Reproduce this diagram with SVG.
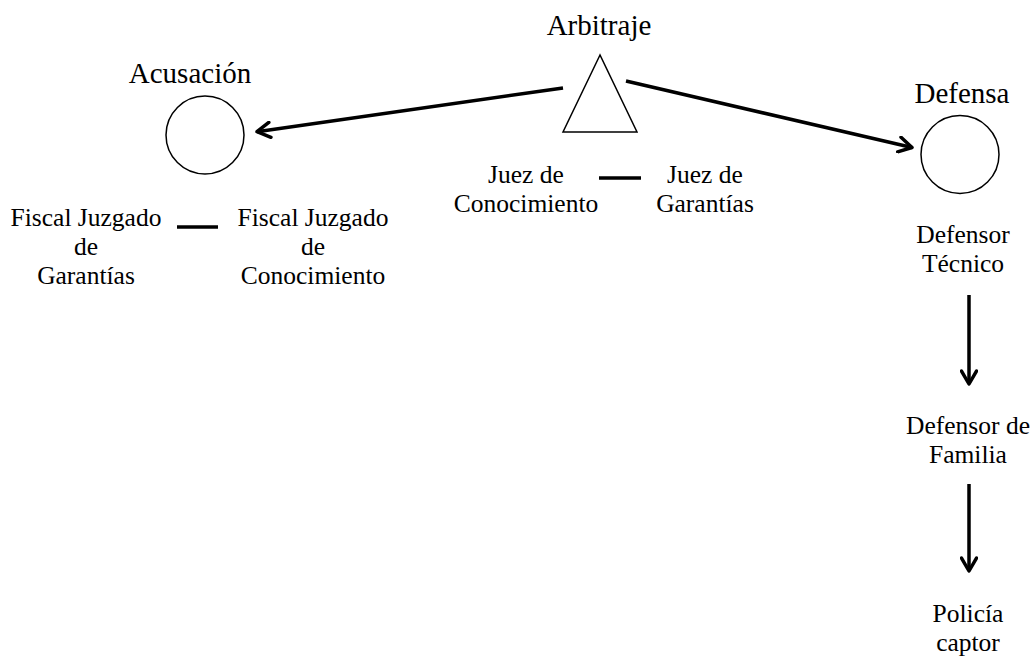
<svg xmlns="http://www.w3.org/2000/svg" width="1035" height="656" viewBox="0 0 1035 656">
<style>
text{font-family:"Liberation Serif","Times New Roman",serif;fill:#000;text-anchor:middle}
.t{font-size:29px}
.s{font-size:25.5px}
.shape{fill:none;stroke:#000;stroke-width:1.5}
.con{stroke:#000;stroke-width:3.5;fill:none}
</style>
<defs>
<marker id="ah" markerWidth="18" markerHeight="18" refX="15" refY="9" orient="auto" markerUnits="userSpaceOnUse" viewBox="0 0 18 18">
<path d="M2,1.5 L15,9 L2,16.5" fill="none" stroke="#000" stroke-width="3.5" stroke-linejoin="round" stroke-linecap="round"/>
</marker>
</defs>
<rect width="1035" height="656" fill="#fff"/>
<g id="arbitraje">
<text class="t" x="599" y="35">Arbitraje</text>
<polygon class="shape" points="600,55 563,132 637,132"/>
</g>
<g id="acusacion">
<text class="t" x="190" y="83">Acusación</text>
<circle class="shape" cx="205" cy="135" r="39"/>
</g>
<g id="defensa">
<text class="t" x="962" y="103">Defensa</text>
<circle class="shape" cx="960" cy="154.5" r="39"/>
</g>
<g id="fiscal-garantias">
<text class="s" x="86" y="226">Fiscal Juzgado</text>
<text class="s" x="86" y="255">de</text>
<text class="s" x="86" y="284">Garantías</text>
</g>
<g id="fiscal-conocimiento">
<text class="s" x="313" y="226">Fiscal Juzgado</text>
<text class="s" x="313" y="255">de</text>
<text class="s" x="313" y="284">Conocimiento</text>
</g>
<g id="juez-conocimiento">
<text class="s" x="526" y="183">Juez de</text>
<text class="s" x="526" y="212">Conocimiento</text>
</g>
<g id="juez-garantias">
<text class="s" x="705" y="183">Juez de</text>
<text class="s" x="705" y="212">Garantías</text>
</g>
<g id="defensor-tecnico">
<text class="s" x="963" y="243">Defensor</text>
<text class="s" x="963" y="272">Técnico</text>
</g>
<g id="defensor-familia">
<text class="s" x="968" y="434">Defensor de</text>
<text class="s" x="968" y="463">Familia</text>
</g>
<g id="policia">
<text class="s" x="968" y="622">Policía</text>
<text class="s" x="968" y="651">captor</text>
</g>
<g id="connectors">
<line class="con" x1="563" y1="88" x2="257" y2="131.7" marker-end="url(#ah)"/>
<line class="con" x1="626" y1="81" x2="912" y2="147.5" marker-end="url(#ah)"/>
<line class="con" x1="177" y1="227" x2="218" y2="227"/>
<line class="con" x1="599" y1="178" x2="641" y2="178"/>
<line class="con" x1="969" y1="295" x2="969" y2="384" marker-end="url(#ah)"/>
<line class="con" x1="969" y1="484" x2="969" y2="571" marker-end="url(#ah)"/>
</g>
</svg>
